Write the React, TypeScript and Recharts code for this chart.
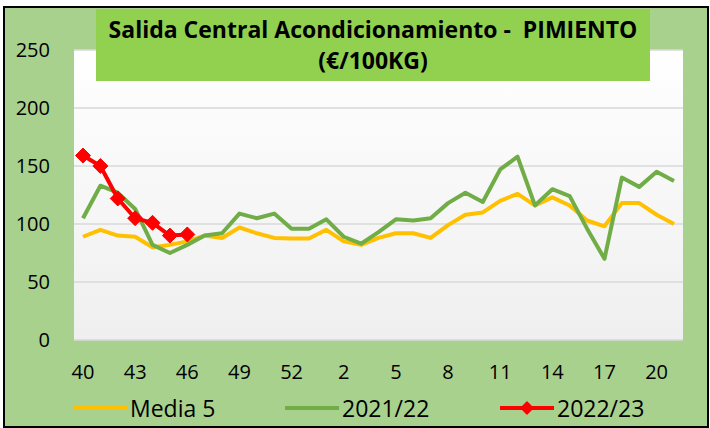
import React from 'react';
import { LineChart, Line, XAxis, YAxis, CartesianGrid } from 'recharts';

const weeks = ['40','41','42','43','44','45','46','47','48','49','50','51','52','53','1','2','3','4','5','6','7','8','9','10','11','12','13','14','15','16','17','18','19','20','21'];
const media5 = [89,95,90,89,80,82,85,90,88,97,92,88,87.5,87.5,95,85,82,88,92,92,88,99,108,110,120,126,116,123,116,103,98,118,118,108,100];
const s2122 = [105,133,127,113,82,75,82,90,92,109,105,109,96,96,104,89,83,93,104,103,105,118,127,119,147,158,116,130,124,96,70,140,132,145,137];
const s2223: (number | null)[] = [159,150,122,105,101,90,91];
const yTicks = [0,50,100,150,200,250];

const data = weeks.map((w, i) => ({
  week: w,
  media: media5[i],
  a: s2122[i],
  b: i < s2223.length ? s2223[i] : null,
}));

const FONT = '"Open Sans", sans-serif';
const YELLOW = '#FFC000';
const GREEN = '#70AD47';
const RED = '#FF0000';

const Diamond = (props: any) => {
  const { cx, cy, index } = props;
  if (cx == null || cy == null || props.value == null) return <g key={'d' + index} />;
  const r = 7.5;
  return (
    <path key={'d' + index} d={`M${cx},${cy - r}L${cx + r},${cy}L${cx},${cy + r}L${cx - r},${cy}Z`} fill={RED} stroke={RED} strokeWidth={1} />
  );
};

const legendItems = [
  { label: 'Media 5', color: YELLOW, x: 73, marker: false },
  { label: '2021/22', color: GREEN, x: 285, marker: false },
  { label: '2022/23', color: RED, x: 500, marker: true },
];

export default function App() {
  return (
    <div style={{ position: 'absolute', left: 0, top: 0, width: 710, height: 428, background: '#fff', overflow: 'hidden' }}>
      <div style={{ position: 'absolute', left: 3, top: 6, width: 706, height: 422, boxSizing: 'border-box', border: '2px solid #000', background: '#A9D18E' }} />
      <div style={{ position: 'absolute', left: 0, top: 0 }}>
        <LineChart width={710} height={428} data={data} margin={{ top: 50, right: 27, left: 0, bottom: 58 }}>
          <defs>
            <linearGradient id="bgGrad" x1="0" y1="0" x2="0" y2="1">
              <stop offset="0%" stopColor="#FFFFFF" />
              <stop offset="100%" stopColor="#EFEFEF" />
            </linearGradient>
          </defs>
          <CartesianGrid vertical={false} stroke="#D9D9D9" strokeWidth={1.5} fill="url(#bgGrad)" fillOpacity={1} />
          <XAxis dataKey="week" interval={2} height={30} padding={{ left: 9, right: 9 }} axisLine={false} tickLine={false} tickSize={0} tickMargin={25}
            tick={{ fontFamily: FONT, fontSize: 20, fill: '#000' }} />
          <YAxis domain={[0, 250]} ticks={yTicks} width={74} axisLine={false} tickLine={false} tickSize={0} tickMargin={24}
            tick={{ fontFamily: FONT, fontSize: 20, fill: '#000' }} />
          <Line type="linear" dataKey="media" name="Media 5" stroke={YELLOW} strokeWidth={4} dot={false} isAnimationActive={false} strokeLinejoin="round" />
          <Line type="linear" dataKey="a" name="2021/22" stroke={GREEN} strokeWidth={4} dot={false} isAnimationActive={false} strokeLinejoin="round" />
          <Line type="linear" dataKey="b" name="2022/23" stroke={RED} strokeWidth={4} dot={Diamond} activeDot={false} isAnimationActive={false} connectNulls={false} strokeLinejoin="round" />
        </LineChart>
      </div>
      <div style={{ position: 'absolute', left: 0, top: 393, width: 710, height: 30 }}>
        {legendItems.map((it) => (
          <div key={it.label} style={{ position: 'absolute', left: it.x, top: 0, height: 30, display: 'flex', alignItems: 'center' }}>
            <svg width={54} height={20} style={{ display: 'block' }}>
              <line x1={0} y1={10} x2={54} y2={10} stroke={it.color} strokeWidth={4} />
              {it.marker && <path d="M27,3L34,10L27,17L20,10Z" fill={RED} />}
            </svg>
            <span style={{ fontFamily: FONT, fontSize: 23, color: '#000', marginLeft: 3, lineHeight: '30px' }}>{it.label}</span>
          </div>
        ))}
      </div>
      <div style={{ position: 'absolute', left: 96, top: 9, width: 554, height: 72, background: '#92D050', display: 'flex', flexDirection: 'column', alignItems: 'center', justifyContent: 'center', fontFamily: FONT, fontWeight: 700, fontSize: 23, lineHeight: '31px', color: '#000', textAlign: 'center' }}>
        <div style={{ whiteSpace: 'pre' }}>Salida Central Acondicionamiento -  PIMIENTO</div>
        <div>(€/100KG)</div>
      </div>
    </div>
  );
}
